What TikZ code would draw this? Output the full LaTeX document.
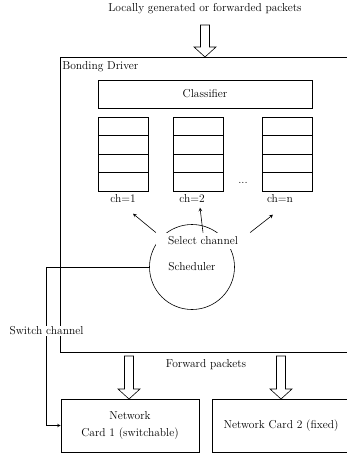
\documentclass[tikz,border=0pt]{standalone}
\usepackage{tikz}
\usetikzlibrary{arrows, positioning}
\tikzset{>=stealth,
  cell/.style={draw, minimum width=50pt, minimum height=18.5pt, inner sep=0pt},
  card/.style={draw, minimum width=138pt, minimum height=53pt, align=center},
  lbl/.style={fill=white, inner sep=1pt}}

\begin{document}
\begin{tikzpicture}[x=1pt, y=1pt, >=stealth, line width=0.6pt, font=\fontsize{11.5}{13.8}\selectfont]
    \useasboundingbox (0,0) rectangle (347,-454);
    \clip (0,0) rectangle (347,-454);

    \node (title) at (205,-9) {Locally generated or forwarded packets};

    % bonding driver box
    \node[draw, anchor=north west, minimum width=295pt, minimum height=295pt] (bond) at (60,-57) {};
    \node[anchor=north west, inner xsep=2pt, inner ysep=4pt] (bondlbl) at (bond.north west) {Bonding Driver};
    \node[draw, minimum width=214pt, minimum height=28pt] (classifier) at (205,-94) {Classifier};

    % channel queues
    \foreach \q/\x in {1/123, 2/198.5, n/287}
        \foreach \i in {1,...,4}
            \node[cell] (q\q-\i) at (\x,{-126.25-18.5*(\i-1)}) {};
    \node (ch1) at (123,-199) {ch=1};
    \node (ch2) at (192,-199) {ch=2};
    \node (chn) at (280,-199) {ch=n};
    \node (dots) at (243,-183) {...};

    % scheduler
    \node[draw, circle, minimum size=85pt, inner sep=0pt] (sched) at (192,-267) {Scheduler};
    \node[fill=white, inner xsep=12pt, inner ysep=4pt] (select) at (203,-241) {Select channel};
    \draw[->] (select.north west) -- ([shift={(10pt,-7pt)}]ch1.south);
    \draw[->] (select.north) -- ([shift={(8pt,-1pt)}]ch2.south);
    \draw[->] (select.north east) -- ([shift={(-7pt,-8pt)}]chn.south);

    % network cards
    \node[card] (card1) at (130,-425.5) {Network\\[4pt]Card 1 (switchable)};
    \node[card] (card2) at (281,-425.5) {Network Card 2 (fixed)};
    \node (fwd) at (206,-365) {Forward packets};

    \node[lbl] (switch) at (46.5,-331) {Switch channel};
    \draw (sched.west) -| (switch.north);
    \draw[->] (switch.south) |- (card1.west);

    % hollow arrows
    \foreach \x/\t/\b in {205/-25/-57, 129/-356/-399, 281/-356/-399}
        \draw ({\x-4.5},\t) -- ({\x-4.5},{\b+10}) -- ({\x-11},{\b+10}) -- (\x,\b)
            -- ({\x+11},{\b+10}) -- ({\x+4.5},{\b+10}) -- ({\x+4.5},\t) -- cycle;
\end{tikzpicture}
\end{document}
